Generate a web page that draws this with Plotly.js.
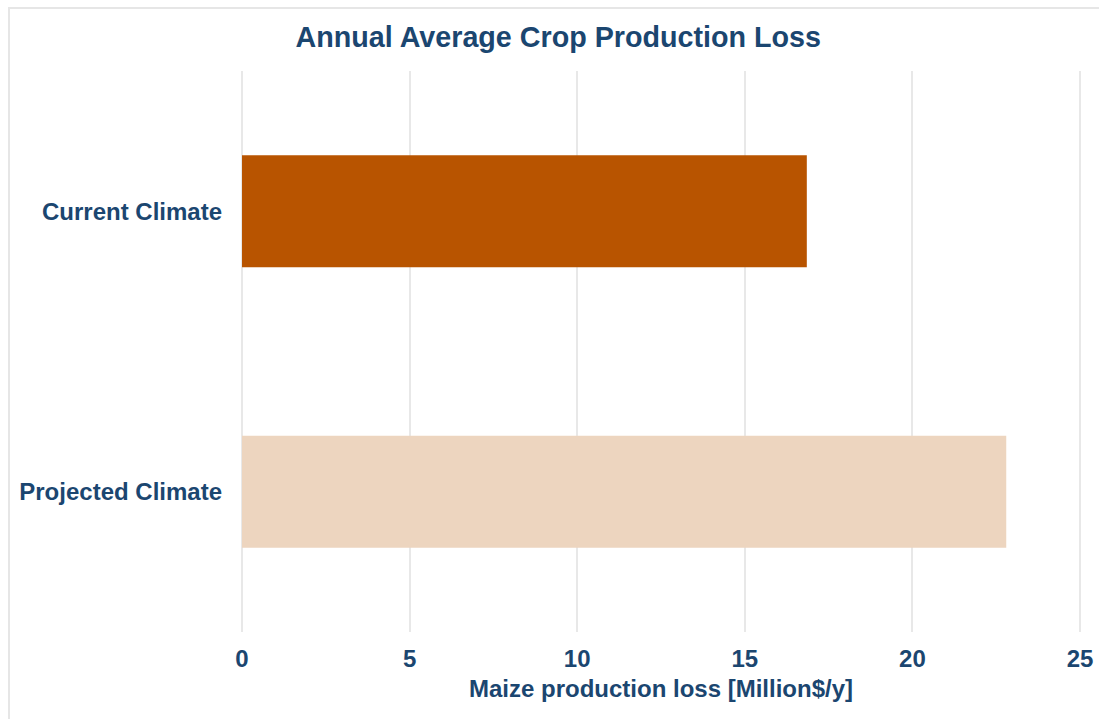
<!DOCTYPE html>
<html>
<head>
<meta charset="utf-8">
<script src="https://cdn.plot.ly/plotly-3.0.1.min.js"></script>
<style>
  html, body { margin: 0; padding: 0; background: #ffffff; }
  #wrap { position: relative; width: 1099px; height: 719px; overflow: hidden; }
  #chart { width: 1099px; height: 719px; }
  #frame {
    position: absolute; left: 8px; top: 7px; right: -4px; bottom: -4px;
    border-top: 2px solid #e6e6e6; border-left: 2px solid #e6e6e6;
    pointer-events: none;
  }
</style>
</head>
<body>
<div id="wrap">
  <div id="chart"></div>
  <div id="frame"></div>
</div>
<script>
// Scenario categories and annual maize production losses (Million $/y)
const scenarios = ['Current Climate', 'Projected Climate'];
const losses = [16.85, 22.8];
const barColors = ['#b85400', '#edd5bf'];
const xTicks = [0, 5, 10, 15, 20, 25];

const navy = '#1b4670';
const font = 'Liberation Sans, Arial, Helvetica, sans-serif';

const trace = {
  type: 'bar',
  orientation: 'h',
  x: losses,
  y: scenarios,
  width: 0.4,
  marker: { color: barColors, line: { width: 0 } },
  hoverinfo: 'x+y'
};

const layout = {
  width: 1099,
  height: 719,
  paper_bgcolor: '#ffffff',
  plot_bgcolor: '#ffffff',
  margin: { l: 241, r: 18, t: 71, b: 87 },
  showlegend: false,
  title: {
    text: '<b>Annual Average Crop Production Loss</b>',
    font: { family: font, size: 28.7, color: navy },
    xref: 'container', x: 0.508, xanchor: 'center',
    yref: 'container', y: 1 - 37 / 719, yanchor: 'middle'
  },
  xaxis: {
    // padded slightly so the gridlines at 0 and 25 are drawn
    range: [-0.03, 25.03],
    tickvals: xTicks,
    ticktext: xTicks.map(v => '<b>' + v + '</b>'),
    showgrid: true,
    gridcolor: '#e8e8e8',
    gridwidth: 2,
    zeroline: false,
    showline: false,
    ticks: '',
    ticklabelstandoff: 10,
    tickfont: { family: font, size: 24, color: navy },
    title: {
      text: '<b>Maize production loss [Million$/y]</b>',
      font: { family: font, size: 24, color: navy },
      standoff: 9
    }
  },
  yaxis: {
    autorange: 'reversed',
    showgrid: false,
    zeroline: false,
    showline: false,
    ticks: '',
    ticklabelstandoff: 18,
    tickvals: scenarios,
    ticktext: scenarios.map(s => '<b>' + s + '</b>'),
    tickfont: { family: font, size: 24, color: navy }
  }
};

Plotly.newPlot('chart', [trace], layout, { displayModeBar: false, staticPlot: true });
</script>
</body>
</html>
